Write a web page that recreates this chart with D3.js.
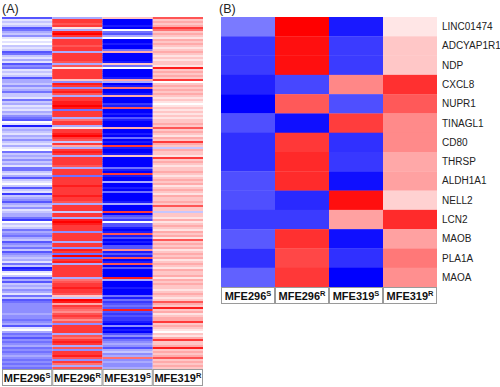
<!DOCTYPE html>
<html>
<head>
<meta charset="utf-8">
<script src="https://cdn.jsdelivr.net/npm/d3@7"></script>
<style>
  body { margin: 0; background: #fff; }
  svg { display: block; font-family: "Liberation Sans", Arial, sans-serif; }
</style>
</head>
<body>
<svg id="chart" width="500" height="387"></svg>
<script>
// sample columns (line, superscript)
const samples = [["MFE296", "S"], ["MFE296", "R"], ["MFE319", "S"], ["MFE319", "R"]];

// panel A: scaled expression levels, -9 (blue) .. 9 (red), one entry per gene row
const a296S = [
  -6,-1,-2,-1,-2,-6,-5,-3,-2,-4,-1,0,-1,0,-2,-1,-2,-6,-5,-2,-1,-3,-1,-6,-4,
  -5,-1,-2,-1,-2,-6,-3,-3,-2,-4,-2,-3,-5,-2,-2,-1,-5,-2,-3,-1,-2,-1,-3,-2,-4,-5,
  -6,0,-1,-8,-2,-3,-2,-1,-3,-2,-4,-2,-1,-3,-1,0,-5,-2,-3,-2,-4,-2,-3,-1,-5,
  -5,-2,-1,-3,-6,-2,-1,0,-2,-6,-2,-1,-7,-2,-3,-4,-6,-3,-2,-4,-1,-2,-3,-3,-5,
  -7,0,-2,-1,-2,-5,-3,-4,-5,-3,-2,-6,-4,-3,-5,-2,-6,-4,-3,-2,-3,-1,-5,-2,-8,
  -7,-1,0,-2,-6,-3,-6,-2,-3,-2,-4,-3,-1,-5,-2,-6,-5,-4,-4,-4,-4,-4,-3,-4,-4,
  -5,-4,-3,-6,-1,0,-3,-5,-4,-6,-4,-5,-4,-3,-5,-4,-5,-4,-3,-4,-5,-4,-5,-4,-5
];
const a296R = [
  -3,7,7,6,7,1,-3,8,9,7,-3,7,7,7,6,7,7,-3,7,7,7,7,6,-3,6,
  1,7,7,7,7,7,2,-4,8,7,-4,7,8,6,-3,7,7,8,8,9,8,-5,7,7,7,-3,
  5,7,7,-3,1,7,7,8,9,7,6,-2,7,3,-3,7,8,7,-3,7,7,7,7,6,-3,
  7,7,7,-5,7,7,7,7,8,7,7,7,7,8,7,7,6,-3,7,7,7,-2,7,7,-3,
  8,9,8,7,7,7,-4,7,7,7,7,-3,7,7,-4,8,7,-5,9,-5,7,8,-3,7,7,
  7,7,7,7,-3,5,6,7,7,8,7,7,6,2,-2,9,8,3,7,6,5,4,6,7,6,
  4,6,-4,7,7,7,7,-3,6,5,7,8,7,-3,6,-4,7,7,8,6,-4,7,5,-3,6
];
const a319S = [
  2,-9,-9,-9,-8,-9,0,-5,-6,-3,0,-9,-9,-8,-9,-9,-5,3,-9,-9,-9,-9,-8,2,-5,
  0,-9,-9,-9,-9,-8,3,-3,-9,-8,5,-9,-9,-8,3,-9,-9,-9,-7,-8,6,-9,-9,-8,-9,-6,
  -8,-9,-9,-9,3,-9,-9,-8,-9,-5,-9,-8,-9,7,-8,-9,-9,-8,2,-9,-9,-9,-9,-9,-5,
  -8,-9,7,-8,-9,-9,-3,-9,-9,-8,-9,-5,-9,-9,-9,-9,-8,-3,-9,-9,-9,7,-9,-6,-5,
  -7,0,-6,-6,-8,-9,-8,6,-8,-6,-9,-8,-9,-6,-6,4,-8,-6,-8,6,-9,-8,6,-9,-6,
  -9,-9,-9,-9,8,-3,-9,-9,-9,-8,-9,-9,-9,-5,-8,-5,-7,-6,-5,-6,8,-6,-7,-6,-7,
  -7,-8,-9,-4,-9,-8,-9,-6,-4,-7,-5,-4,-3,-4,-6,-3,-2,-4,-3,5,-4,-3,-4,-4,-3
];
const a319R = [
  6,2,3,2,3,7,5,2,3,2,1,3,2,3,2,1,2,3,2,1,2,1,2,2,1,
  8,2,3,2,3,2,7,0,2,3,2,3,2,3,2,1,2,1,0,1,2,1,2,1,2,1,
  2,2,3,2,6,2,3,2,1,3,2,7,3,2,-2,3,2,2,1,7,2,3,2,1,2,
  2,3,2,1,2,3,2,3,1,2,3,2,1,3,2,2,3,2,6,2,2,-2,2,2,1,
  3,1,2,3,2,1,3,2,3,1,6,2,3,2,3,1,2,3,2,3,1,2,3,2,1,
  3,2,2,3,1,3,2,3,2,2,1,2,3,2,1,2,6,3,2,8,2,3,1,2,3,
  3,7,2,3,2,1,0,2,1,3,7,2,2,3,8,2,3,2,3,6,2,3,2,3,2
];

// panel B: selected genes, z-scores per sample
const genes = ["LINC01474", "ADCYAP1R1", "NDP", "CXCL8", "NUPR1", "TINAGL1", "CD80",
  "THRSP", "ALDH1A1", "NELL2", "LCN2", "MAOB", "PLA1A", "MAOA"];
const b296S = [-0.52, -0.77, -0.77, -0.87, -1.0, -0.69, -0.81, -0.81, -0.69, -0.69, -0.77, -0.65, -0.81, -0.62];
const b296R = [1.0, 0.94, 0.94, -0.72, 0.65, -0.94, 0.78, 0.84, 0.83, -0.84, -0.77, 0.81, 0.72, 0.78];
const b319S = [-0.9, -0.77, -0.77, 0.47, -0.69, 0.76, -0.81, -0.78, -0.94, 0.94, 0.37, -0.94, -0.81, -1.0];
const b319R = [0.1, 0.22, 0.22, 0.81, 0.65, 0.46, 0.46, 0.34, 0.37, 0.18, 0.83, 0.37, 0.53, 0.44];

const color = d3.scaleLinear()
  .domain([-1, 0, 1])
  .range(["#0000ff", "#ffffff", "#ff0000"]);

const svg = d3.select("#chart");

function drawLabels(g, x, top, h) {
  const cell = g.selectAll(".lab")
    .data(samples)
    .join("g")
    .attr("class", "lab")
    .attr("transform", (d, i) => `translate(${x(i)},${top})`);
  cell.append("rect")
    .attr("x", 0.5).attr("y", 0.5)
    .attr("width", x.bandwidth() - 1).attr("height", h - 1)
    .attr("fill", "#fff").attr("stroke", "#9a9a9a");
  const t = cell.append("text")
    .attr("x", x.bandwidth() / 2)
    .attr("y", h / 2 + 4)
    .attr("text-anchor", "middle")
    .attr("font-size", 11)
    .attr("font-weight", "bold")
    .attr("fill", "#111");
  t.append("tspan").text(d => d[0]);
  t.append("tspan").attr("font-size", 7.5).attr("dy", -4).text(d => d[1]);
}

// ---- panel A
const colsA = [a296S, a296R, a319S, a319R];
const xA = d3.scaleBand().domain(d3.range(4)).range([2, 203]);
const yA = d3.scaleBand().domain(d3.range(a296S.length)).range([17, 369]);
const gA = svg.append("g");

gA.selectAll("g.col")
  .data(colsA)
  .join("g")
  .attr("class", "col")
  .each(function (vals, ci) {
    d3.select(this).selectAll("rect")
      .data(vals)
      .join("rect")
      .attr("x", xA(ci))
      .attr("y", (d, i) => yA(i))
      .attr("width", xA.bandwidth())
      .attr("height", yA.bandwidth() + 0.3)
      .attr("fill", d => color(d / 9));
  });

drawLabels(gA, xA, 369, 17);

svg.append("text")
  .attr("x", 2).attr("y", 13)
  .attr("font-size", 12.5)
  .attr("fill", "#222")
  .text("(A)");

// ---- panel B
const colsB = [b296S, b296R, b319S, b319R];
const xB = d3.scaleBand().domain(d3.range(4)).range([221, 437]);
const yB = d3.scaleBand().domain(genes).range([17, 287]);
const gB = svg.append("g");

gB.selectAll("g.col")
  .data(colsB)
  .join("g")
  .attr("class", "col")
  .each(function (vals, ci) {
    d3.select(this).selectAll("rect")
      .data(vals)
      .join("rect")
      .attr("x", xB(ci))
      .attr("y", (d, i) => yB(genes[i]))
      .attr("width", xB.bandwidth())
      .attr("height", yB.bandwidth() + 0.3)
      .attr("fill", d => color(d));
  });

gB.selectAll("text.gene")
  .data(genes)
  .join("text")
  .attr("class", "gene")
  .attr("x", 442)
  .attr("y", d => yB(d) + yB.bandwidth() / 2 + 3.5)
  .attr("font-size", 10)
  .attr("fill", "#222")
  .text(d => d);

drawLabels(gB, xB, 287, 17);

svg.append("text")
  .attr("x", 219).attr("y", 13)
  .attr("font-size", 12.5)
  .attr("fill", "#222")
  .text("(B)");
</script>
</body>
</html>
